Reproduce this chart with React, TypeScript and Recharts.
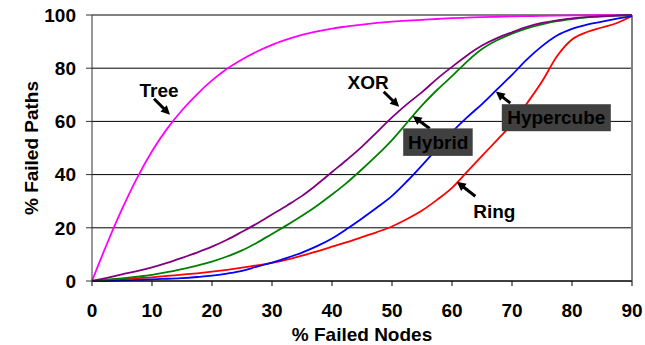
import React from "react";
import {
  LineChart,
  Line,
  XAxis,
  YAxis,
  CartesianGrid,
  ReferenceLine,
  ReferenceDot,
} from "recharts";

const FONT = '"Liberation Sans", Arial, sans-serif';

// % failed nodes (x axis), every 2.5
const failedNodes = [
  0, 2.5, 5, 7.5, 10, 12.5, 15, 17.5, 20, 22.5, 25, 27.5, 30, 32.5, 35, 37.5, 40, 42.5, 45,
  47.5, 50, 52.5, 55, 57.5, 60, 62.5, 65, 67.5, 70, 72.5, 75, 77.5, 80, 82.5, 85, 87.5, 90,
];

// % failed paths per topology
const treePaths = [
  0, 14, 27, 38.7, 48.8, 57.2, 64.2, 70.2, 75.4, 79.8, 83.3, 86.3, 88.8, 90.8, 92.5, 93.8, 94.9, 95.7, 96.4,
  97, 97.5, 97.9, 98.2, 98.5, 98.8, 99, 99.2, 99.35, 99.5, 99.6, 99.7, 99.78, 99.85, 99.9, 99.95, 99.98, 100,
];
const xorPaths = [
  0, 1.2, 2.5, 3.7, 5.1, 6.8, 8.7, 10.7, 12.9, 15.5, 18.5, 21.6, 25, 28.4, 32, 36.3, 41, 45.6, 50.5,
  56, 61.5, 66.5, 71, 76, 80.5, 84.8, 88.5, 91.3, 93.5, 95.5, 97, 98, 98.7, 99.2, 99.5, 99.8, 100,
];
const hybridPaths = [
  0, 0.5, 1, 1.6, 2.3, 3.3, 4.5, 5.8, 7.3, 9.2, 11.5, 14.4, 17.7, 21, 24.5, 28.3, 32.5, 37, 42,
  47.3, 53, 59.5, 66, 71.8, 77, 82.5, 87.2, 90.5, 93, 95, 96.5, 97.7, 98.5, 99.1, 99.5, 99.8, 100,
];
const hypercubePaths = [
  0, 0.05, 0.2, 0.4, 0.6, 0.85, 1.1, 1.5, 2, 2.8, 3.8, 5.4, 6.9, 8.7, 10.7, 13.1, 16, 19.6, 23.5,
  27.6, 32, 37.5, 43.5, 49.8, 56, 61.5, 66.5, 72, 77.5, 83.3, 88.3, 92.3, 94.8, 96.4, 97.5, 98.6, 99.6,
];
const ringPaths = [
  0, 0.35, 0.7, 1.05, 1.4, 1.9, 2.4, 2.9, 3.5, 4.2, 5, 5.9, 6.8, 8, 9.5, 11.1, 12.9, 14.6, 16.5,
  18.4, 20.5, 23.3, 26.5, 30.5, 35, 41, 47, 53, 59, 66.8, 75, 84.5, 90.8, 93.6, 95.3, 97, 99.6,
];

const xTicks = [0, 10, 20, 30, 40, 50, 60, 70, 80, 90];
const yTicks = [0, 20, 40, 60, 80, 100];

const data = failedNodes.map((x, i) => ({
  x,
  tree: treePaths[i],
  xor: xorPaths[i],
  hybrid: hybridPaths[i],
  hypercube: hypercubePaths[i],
  ring: ringPaths[i],
}));

const series = [
  { key: "tree", color: "#FF00FF" },
  { key: "ring", color: "#FF0000" },
  { key: "hypercube", color: "#0000FF" },
  { key: "hybrid", color: "#008000" },
  { key: "xor", color: "#800080" },
];

// callouts: anchor point on the curve (data units) + pixel offsets for the arrow tail and text
const callouts = [
  { label: "Tree", x: 13, y: 62.5, tail: [-16, -16], text: [-11, -18], box: null },
  { label: "XOR", x: 51.2, y: 65.5, tail: [-15.5, -15], text: [-31, -18], box: null },
  { label: "Hybrid", x: 53.45, y: 62, tail: [17, 12.5], text: [25.5, 32.5], box: [-9.5, 12.3, 69.5, 27.5] },
  { label: "Hypercube", x: 67.3, y: 71.2, tail: [14.5, 11.5], text: [60.5, 32.5], box: [6, 12.6, 109, 27] },
  { label: "Ring", x: 60.8, y: 37.3, tail: [18.5, 14.5], text: [37.5, 36.5], box: null },
];

function Callout({ cx, cy, c }: any) {
  const tx = cx + c.tail[0];
  const ty = cy + c.tail[1];
  const len = Math.hypot(cx - tx, cy - ty);
  const ux = (cx - tx) / len;
  const uy = (cy - ty) / len;
  const head = 9;
  const half = 4.5;
  const bx = cx - ux * head;
  const by = cy - uy * head;
  return (
    <g>
      <line x1={tx} y1={ty} x2={bx + ux} y2={by + uy} stroke="#000" strokeWidth={3} />
      <polygon
        points={`${cx},${cy} ${bx - uy * half},${by + ux * half} ${bx + uy * half},${by - ux * half}`}
        fill="#000"
      />
      {c.box && (
        <rect x={cx + c.box[0]} y={cy + c.box[1]} width={c.box[2]} height={c.box[3]} fill="#404040" />
      )}
      <text
        x={cx + c.text[0]}
        y={cy + c.text[1]}
        textAnchor="middle"
        fontFamily={FONT}
        fontWeight="bold"
        fontSize={19}
        fill="#000"
      >
        {c.label}
      </text>
    </g>
  );
}

function YTitle({ viewBox }: any) {
  const x = viewBox.x - 1;
  const y = viewBox.y + viewBox.height / 2;
  return (
    <text
      x={x}
      y={y}
      transform={`rotate(-90, ${x}, ${y})`}
      textAnchor="middle"
      dominantBaseline="central"
      fontFamily={FONT}
      fontWeight="bold"
      fontSize={19}
      fill="#000"
    >
      % Failed Paths
    </text>
  );
}

function XTitle({ viewBox }: any) {
  return (
    <text
      x={viewBox.x + viewBox.width / 2}
      y={viewBox.y + 60}
      textAnchor="middle"
      fontFamily={FONT}
      fontWeight="bold"
      fontSize={19}
      fill="#000"
    >
      % Failed Nodes
    </text>
  );
}

const tickStyle = { fontFamily: FONT, fontWeight: "bold", fontSize: 19, fill: "#000" };

export default function App() {
  return (
    <div style={{ position: "absolute", left: 0, top: 0, width: 645, height: 345, background: "#fff" }}>
      <LineChart width={645} height={345} data={data} margin={{ top: 15, right: 13, bottom: 0, left: 32 }}>
        <CartesianGrid vertical={false} stroke="#000" strokeWidth={1} />
        <XAxis
          dataKey="x"
          type="number"
          domain={[0, 90]}
          ticks={xTicks}
          height={64}
          tickSize={5}
          tickMargin={18}
          tick={tickStyle}
          stroke="#000"
          interval={0}
          label={<XTitle />}
        />
        <YAxis
          type="number"
          domain={[0, 100]}
          ticks={yTicks}
          width={60}
          tickSize={6}
          tickMargin={10}
          tick={tickStyle}
          stroke="#333"
          interval={0}
          label={<YTitle />}
        />
        <ReferenceLine y={100} stroke="#808080" strokeWidth={2} />
        <ReferenceLine x={90} stroke="#808080" strokeWidth={2} />
        {series.map((s) => (
          <Line
            key={s.key}
            dataKey={s.key}
            type="monotone"
            stroke={s.color}
            strokeWidth={1.8}
            dot={false}
            isAnimationActive={false}
          />
        ))}
        {callouts.map((c) => (
          <ReferenceDot
            key={c.label}
            x={c.x}
            y={c.y}
            r={0}
            shape={(p: any) => <Callout cx={p.cx} cy={p.cy} c={c} />}
          />
        ))}
      </LineChart>
    </div>
  );
}
